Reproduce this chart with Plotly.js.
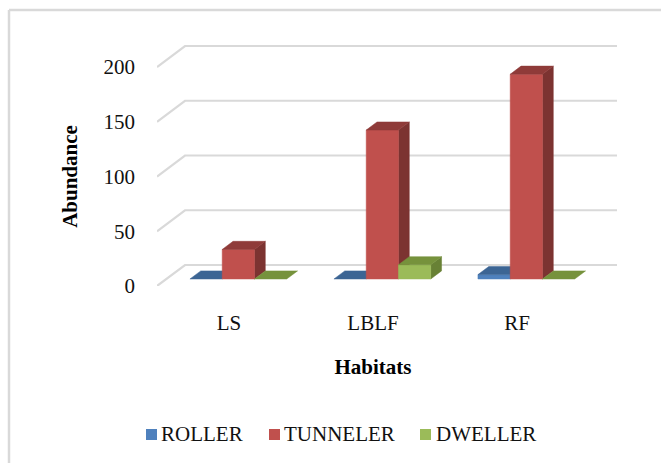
<!DOCTYPE html>
<html>
<head>
<meta charset="utf-8">
<script src="https://cdn.plot.ly/plotly-3.0.1.min.js"></script>
<style>html,body{margin:0;padding:0;background:#fff}</style>
</head>
<body>
<div id="chart" style="width:661px;height:463px"></div>
<script>
// Dung beetle functional groups per habitat
const habitats = ['LS', 'LBLF', 'RF'];
const roller = [0, 0, 4];
const tunneler = [27, 136, 187];
const dweller = [0, 13, 0];
const groupNames = ['ROLLER', 'TUNNELER', 'DWELLER'];
const yTicks = [0, 50, 100, 150, 200];

// Face colours: front, top, side
const palette = [
  {front: '#4f81bd', top: '#3c6594', side: '#335680'},
  {front: '#c0504d', top: '#8f3b39', side: '#7c3331'},
  {front: '#9bbb59', top: '#76923c', side: '#688135'}
];

// Page and plot geometry. The front plane of the box carries the visible
// axes; a second, larger pair of axes holds the receding box itself.
const W = 661, H = 463;
const M = {l: 157, r: 38, t: 40, b: 177};
const fullW = W - M.l - M.r, fullH = H - M.t - M.b;
const frontW = 432, frontH = 219;
const unitX = frontW / 3, unitY = frontH / 200;

// Oblique projection of the floor depth into axis units
const depthX = 28 / unitX;
const depthY = 21 / unitY;
const project = (x, y, d) => [x + d * depthX, y + d * depthY];

const barWidth = 0.224;
const depthFront = 1 / 3, depthBack = 0.72;

// Empty trace keeps the front-plane axes alive
const traces = [{type: 'scatter', x: [], y: [], xaxis: 'x', yaxis: 'y', hoverinfo: 'skip', showlegend: false}];

function poly(points, color, name) {
  traces.push({
    type: 'scatter', mode: 'lines', fill: 'toself', fillcolor: color,
    x: points.map(p => p[0]), y: points.map(p => p[1]),
    xaxis: 'x2', yaxis: 'y2',
    line: {color: color, width: 0.5},
    hoverinfo: 'skip', showlegend: false, name: name
  });
}

// Back-wall gridlines with their return along the side wall
yTicks.forEach(v => {
  const a = project(-0.5, v, 0), b = project(-0.5, v, 1), c = project(2.5, v, 1);
  traces.push({
    type: 'scatter', mode: 'lines',
    x: [a[0], b[0], c[0]], y: [a[1], b[1], c[1]],
    xaxis: 'x2', yaxis: 'y2',
    line: {color: '#d9d9d9', width: 2.2},
    hoverinfo: 'skip', showlegend: false
  });
});

// Painted left to right so nearer faces overlap correctly
habitats.forEach((_, i) => {
  [roller, tunneler, dweller].forEach((series, g) => {
    const v = series[i];
    const c = palette[g];
    const x0 = i + (g - 1.5) * barWidth, x1 = x0 + barWidth;
    const f = (x, y) => project(x, y, depthFront);
    const b = (x, y) => project(x, y, depthBack);
    if (v > 0) {
      poly([f(x1, 0), b(x1, 0), b(x1, v), f(x1, v), f(x1, 0)], c.side, groupNames[g]);
      poly([f(x0, 0), f(x1, 0), f(x1, v), f(x0, v), f(x0, 0)], c.front, groupNames[g]);
    }
    poly([f(x0, v), f(x1, v), b(x1, v), b(x0, v), f(x0, v)], c.top, groupNames[g]);
  });
});

const font = 'Liberation Serif, Times New Roman, serif';
const fx = px => (px - M.l) / fullW;
const fy = py => 1 - (py - M.t) / fullH;

// Chart frame: only its top and left edges show on the page
const shapes = [
  {type: 'line', xref: 'paper', yref: 'paper', x0: fx(9), x1: fx(661), y0: fy(10), y1: fy(10),
   line: {color: '#d9d9d9', width: 2.5}, layer: 'below'},
  {type: 'line', xref: 'paper', yref: 'paper', x0: fx(9), x1: fx(9), y0: fy(10), y1: fy(463),
   line: {color: '#d9d9d9', width: 2.5}, layer: 'below'}
];

// Legend row
const legendRow = [
  {swatch: 146, text: 160},
  {swatch: 269, text: 283},
  {swatch: 420, text: 435}
];
const annotations = [];
legendRow.forEach((item, g) => {
  shapes.push({
    type: 'rect', xref: 'paper', yref: 'paper',
    x0: fx(item.swatch), x1: fx(item.swatch + 11), y0: fy(440), y1: fy(429),
    fillcolor: palette[g].front, line: {width: 0}
  });
  annotations.push({
    xref: 'paper', yref: 'paper', x: fx(item.text), y: fy(434),
    xanchor: 'left', yanchor: 'middle', showarrow: false, borderpad: 0,
    text: groupNames[g], font: {family: font, size: 21, color: '#111'}
  });
});

const layout = {
  width: W, height: H,
  margin: M,
  paper_bgcolor: '#fff', plot_bgcolor: 'rgba(0,0,0,0)',
  showlegend: false,
  shapes, annotations,
  xaxis: {
    domain: [0, frontW / fullW], anchor: 'y',
    range: [-0.5, 2.5], showgrid: false, zeroline: false, showline: false,
    tickmode: 'array', tickvals: [0, 1, 2], ticktext: habitats,
    ticks: '', ticklabelstandoff: 22,
    tickfont: {family: font, size: 21, color: '#111'},
    title: {text: '<b>Habitats</b>', font: {family: font, size: 21, color: '#000'}, standoff: 25}
  },
  yaxis: {
    domain: [0, frontH / fullH], anchor: 'x',
    range: [0, 200], showgrid: false, zeroline: false, showline: false,
    tickmode: 'array', tickvals: yTicks,
    ticks: '', ticklabelstandoff: 21,
    tickfont: {family: font, size: 21, color: '#111'},
    title: {text: '<b>Abundance</b>', font: {family: font, size: 21, color: '#000'}, standoff: 20}
  },
  xaxis2: {
    domain: [0, 1], anchor: 'y2', visible: false,
    range: [-0.5, -0.5 + fullW / unitX]
  },
  yaxis2: {
    domain: [0, 1], anchor: 'x2', visible: false,
    range: [0, fullH / unitY]
  }
};

Plotly.newPlot('chart', traces, layout, {displayModeBar: false, staticPlot: true});
</script>
</body>
</html>
